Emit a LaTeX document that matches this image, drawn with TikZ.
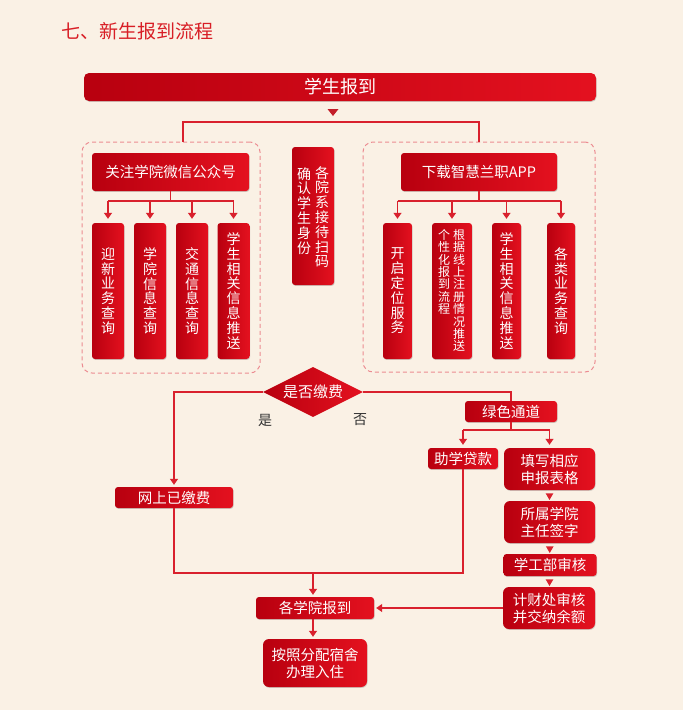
\documentclass[tikz,border=0pt]{standalone}
\usepackage{fontspec}
\newfontfamily\cjk{Noto Sans CJK SC}
\usetikzlibrary{arrows.meta,shapes.geometric,shadows}
\definecolor{bg}{HTML}{FAF1E5}
\definecolor{rdark}{HTML}{B8000F}
\definecolor{rlight}{HTML}{E4111F}
\definecolor{lred}{HTML}{D9212D}
\definecolor{dashc}{HTML}{EC8C92}
\definecolor{titlered}{HTML}{D81E26}
\begin{document}
\begin{tikzpicture}[x=1pt,y=-1pt,
  rbox/.style={rounded corners=3pt, left color=rdark, right color=rlight, text=white, inner sep=0pt, align=center,
    font=\cjk\fontsize{14.5}{17}\selectfont,
    drop shadow={shadow xshift=0.6pt,shadow yshift=-0.9pt,opacity=0.25,fill=black!70}},
  vt/.style={text=white, inner sep=0pt, align=center, font=\cjk\fontsize{14}{14.8}\selectfont},
  vts/.style={text=white, inner sep=0pt, align=center, font=\cjk\fontsize{12}{12.4}\selectfont},
  dbox/.style={draw=dashc, dash pattern=on 4pt off 3pt, line width=1pt, rounded corners=10pt, inner sep=0pt},
  ln/.style={draw=lred, line width=1.2pt},
  arr/.style={ln, -{Triangle[width=8pt,length=6pt]}, shorten >=2pt},
  dtri/.style={regular polygon, regular polygon sides=3, shape border rotate=180, fill=lred, inner sep=0pt, minimum size=9pt},
  lbl/.style={inner sep=0pt, text=black!80, font=\cjk\fontsize{14}{14}\selectfont}
]
\fill[bg] (0,0) rectangle (683,710);
\useasboundingbox (0,0) rectangle (683,710);

% title
\node[anchor=west, text=titlered, inner sep=0pt, font=\cjk\fontsize{19}{20}\selectfont] (title) at (61,31) {七、新生报到流程};

% top box
\node[rbox, rounded corners=5pt, minimum width=512pt, minimum height=28pt, font=\cjk\fontsize{18}{20}\selectfont] (top) at (340,87) {学生报到};
\fill[lred!90!black] (327.5,109) -- (338.5,109) -- (333,116) -- cycle;

% dashed groups
\node[dbox, minimum width=178pt, minimum height=231pt] (dl) at (171,257.5) {};
\node[dbox, minimum width=232pt, minimum height=230pt] (dr) at (479,257) {};

\coordinate (tL) at (183,122);
\coordinate (tR) at (479,122);
\draw[ln] (dl.north -| tL) -- (tL) -- (tR) -- (dr.north -| tR);

% left group
\node[rbox, minimum width=157pt, minimum height=38pt] (gz) at (170.5,172) {关注学院微信公众号};
\node[rbox, minimum width=32pt, minimum height=136pt] (l1) at (108,291) {};
\node[rbox, minimum width=32pt, minimum height=136pt] (l2) at (150,291) {};
\node[rbox, minimum width=32pt, minimum height=136pt] (l3) at (192,291) {};
\node[rbox, minimum width=32pt, minimum height=136pt] (l4) at (233.5,291) {};
\node[vt] (l1t) at (l1.center) {迎\\新\\业\\务\\查\\询};
\node[vt] (l2t) at (l2.center) {学\\院\\信\\息\\查\\询};
\node[vt] (l3t) at (l3.center) {交\\通\\信\\息\\查\\询};
\node[vt] (l4t) at (l4.center) {学\\生\\相\\关\\信\\息\\推\\送};

\coordinate (lb) at (172,201);
\draw[ln] (gz.south) -- (gz.south |- lb);
\draw[ln] (l1.north |- lb) -- (l4.north |- lb);
\foreach \n in {l1,l2,l3,l4} \draw[arr, shorten >=4pt] (\n.north |- lb) -- (\n.north);

% middle
\node[rbox, minimum width=42pt, minimum height=138pt] (mid) at (313,216) {};
\node[vt, anchor=north] (midr) at (322,166) {各\\院\\系\\接\\待\\扫\\码};
\node[vt, anchor=north] (midl) at (304,167) {确\\认\\学\\生\\身\\份};

% right group
\node[rbox, minimum width=156pt, minimum height=38pt] (xz) at (479,172) {下载智慧兰职APP};
\node[rbox, minimum width=29pt, minimum height=136pt] (r1) at (397.5,291) {};
\node[rbox, minimum width=40pt, minimum height=136pt] (r2) at (452,291) {};
\node[rbox, minimum width=29pt, minimum height=136pt] (r3) at (506.5,291) {};
\node[rbox, minimum width=28pt, minimum height=136pt] (r4) at (561,291) {};
\node[vt] (r1t) at (r1.center) {开\\启\\定\\位\\服\\务};
\node[vts, anchor=north] (r2r) at (459,229) {根\\据\\线\\上\\注\\册\\情\\况\\推\\送};
\node[vts, anchor=north] (r2l) at (444,229) {个\\性\\化\\报\\到\\流\\程};
\node[vt] (r3t) at (r3.center) {学\\生\\相\\关\\信\\息\\推\\送};
\node[vt] (r4t) at (r4.center) {各\\类\\业\\务\\查\\询};

\coordinate (rb) at (480,201);
\draw[ln] (xz.south) -- (xz.south |- rb);
\draw[ln] (r1.north |- rb) -- (r4.north |- rb);
\foreach \n in {r1,r2,r3,r4} \draw[arr, shorten >=4pt] (\n.north |- rb) -- (\n.north);

% decision
\node[diamond, aspect=2, left color=rdark, right color=rlight, text=white, inner sep=0pt,
  minimum width=100pt, minimum height=50pt, font=\cjk\fontsize{15}{16}\selectfont] (dm) at (313,392) {是否缴费};
\node[lbl] (yes) at (265,420) {是};
\node[lbl] (no) at (360,420) {否};

\node[rbox, minimum width=118pt, minimum height=21pt] (wp) at (174,497.5) {网上已缴费};
\node[rbox, minimum width=92pt, minimum height=21pt] (ls) at (511,411.5) {绿色通道};
\node[rbox, minimum width=70pt, minimum height=21pt] (zx) at (463,458.5) {助学贷款};
\node[rbox, rounded corners=6pt, minimum width=91pt, minimum height=42pt] (tx) at (549.5,469) {填写相应\\申报表格};
\node[rbox, rounded corners=6pt, minimum width=91pt, minimum height=42pt] (ss) at (549.5,522) {所属学院\\主任签字};
\node[rbox, minimum width=93pt, minimum height=22pt] (xg) at (550,565) {学工部审核};
\node[rbox, rounded corners=6pt, minimum width=92pt, minimum height=42pt] (jc) at (549,608) {计财处审核\\并交纳余额};
\node[rbox, minimum width=118pt, minimum height=22pt] (gx) at (315,608) {各学院报到};
\node[rbox, rounded corners=6pt, minimum width=104pt, minimum height=48pt] (az) at (315,663) {按照分配宿舍\\办理入住};

\draw[arr] (dm.west) -| (wp.north);
\draw[ln] (dm.east) -| (ls.north);

\coordinate (gb) at (512,430);
\draw[ln] (ls.south) -- (ls.south |- gb);
\draw[ln] (zx.north |- gb) -- (tx.north |- gb);
\draw[arr, shorten >=3pt] (zx.north |- gb) -- (zx.north);
\draw[arr, shorten >=3pt] (tx.north |- gb) -- (tx.north);

\path (tx.south) -- (ss.north) node[midway, dtri] (a1) {};
\path (ss.south) -- (xg.north) node[midway, dtri] (a2) {};
\path (xg.south) -- (jc.north) node[midway, dtri] (a3) {};

\coordinate (mb) at (313,573);
\draw[ln] (wp.south) -- (wp.south |- mb) -- (zx.south |- mb) -- (zx.south);
\draw[arr] (mb) -- (mb |- gx.north);
\draw[arr] (jc.west) -- (gx.east);
\draw[arr] (gx.south -| mb) -- (az.north -| mb);
\end{tikzpicture}
\end{document}
